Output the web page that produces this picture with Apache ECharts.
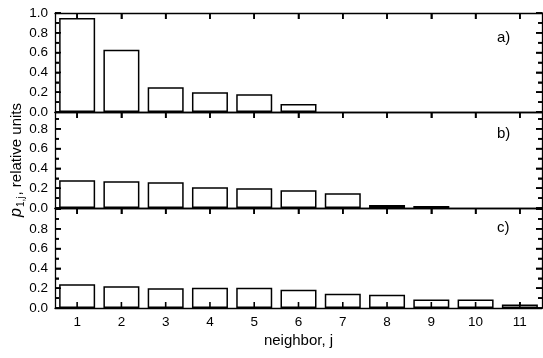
<!DOCTYPE html>
<html>
<head>
<meta charset="utf-8">
<script src="https://cdn.jsdelivr.net/npm/echarts@6/dist/echarts.min.js"></script>
<style>html,body{margin:0;padding:0;background:#fff}#c{width:543px;height:358px}</style>
</head>
<body>
<div id="c"></div>
<script>
const categories = ['1','2','3','4','5','6','7','8','9','10','11'];
const panelA = [0.95, 0.63, 0.25, 0.20, 0.18, 0.08];
const panelB = [0.28, 0.27, 0.26, 0.21, 0.20, 0.18, 0.15, 0.03, 0.02];
const panelC = [0.24, 0.22, 0.20, 0.205, 0.205, 0.185, 0.145, 0.135, 0.085, 0.085, 0.035];
const yTicks = [0, 0.2, 0.4, 0.6, 0.8, 1.0];
const panelLabels = ['a)', 'b)', 'c)'];
const xTitle = 'neighbor, j';

const FONT = 'Liberation Sans, Arial, sans-serif';
const panels = [panelA, panelB, panelC];
const L = 55, W = 487;
const mainGrids = [
  {left: L, width: W, top: 13, height: 99},
  {left: L, width: W, top: 112, height: 96},
  {left: L, width: W, top: 208, height: 100}
];
const yMax = [1.0, 0.97, 1.01];
const MAJOR = yTicks[1] - yTicks[0];
const minorTicks = yTicks.slice(0, -1).map((t, k) => (t + yTicks[k + 1]) / 2);
const line = () => ({show: true, onZero: false, lineStyle: {color: '#000', width: 1.3}});
const nativeTick = (len) => ({show: true, inside: true, alignWithLabel: true, length: len, lineStyle: {color: '#000', width: 1.5}});

const grid = [], xAxis = [], yAxis = [], series = [];
mainGrids.forEach(g => grid.push(Object.assign({outerBoundsMode: 'none'}, g)));
mainGrids.forEach(g => grid.push(Object.assign({outerBoundsMode: 'none'}, g)));

// bottom x (0..2)
for (let i = 0; i < 3; i++) {
  const last = i === 2;
  xAxis.push({
    type: 'category', gridIndex: i, data: categories, position: 'bottom',
    axisLine: line(), axisTick: last ? nativeTick(6) : {show: false},
    axisLabel: {show: last, color: '#000', fontFamily: FONT, fontSize: 13.5, margin: 7},
    splitLine: {show: false},
    name: last ? xTitle : '', nameLocation: 'middle', nameGap: 25, nameMoveOverlap: false,
    nameTextStyle: {color: '#000', fontFamily: FONT, fontSize: 15}
  });
}
// top x (3..5)
for (let i = 0; i < 3; i++) {
  xAxis.push({
    type: 'category', gridIndex: i, data: categories, position: 'top',
    axisLine: line(), axisTick: nativeTick(6),
    axisLabel: {show: false}, splitLine: {show: false}
  });
}
// overlay x (6..8)
for (let i = 0; i < 3; i++) {
  xAxis.push({type: 'value', gridIndex: 3 + i, min: 0, max: 1, show: false});
}
// left y (0..2)
for (let i = 0; i < 3; i++) {
  yAxis.push({
    type: 'value', gridIndex: i, min: 0, max: yMax[i], interval: MAJOR, position: 'left',
    axisLine: line(), axisTick: nativeTick(6),
    minorTick: {show: true, splitNumber: 2, length: 4, lineStyle: {color: '#000', width: 1.5}},
    axisLabel: {color: '#000', fontFamily: FONT, fontSize: 13.5, margin: 7, showMaxLabel: i === 0,
      formatter: v => (yTicks.some(t => Math.abs(t - v) < 1e-6) && (i === 0 || v < 0.85) ? v.toFixed(1) : '')},
    splitLine: {show: false},
    name: i === 1 ? '{p|p}{s|1,j}{n|, relative units}' : '',
    nameLocation: 'middle', nameGap: 29, nameMoveOverlap: false,
    nameTextStyle: {
      color: '#000', fontFamily: FONT, fontSize: 15,
      rich: {
        p: {fontFamily: FONT, fontSize: 16, fontStyle: 'italic', color: '#000', lineHeight: 18},
        s: {fontFamily: FONT, fontSize: 10, color: '#000', verticalAlign: 'bottom', lineHeight: 18, padding: [8, 1, 0, 1]},
        n: {fontFamily: FONT, fontSize: 15, color: '#000', lineHeight: 18}
      }
    }
  });
}
// right y (3..5)
for (let i = 0; i < 3; i++) {
  yAxis.push({
    type: 'value', gridIndex: i, min: 0, max: yMax[i], interval: MAJOR, position: 'right',
    axisLine: line(), axisTick: nativeTick(6),
    minorTick: {show: true, splitNumber: 2, length: 4, lineStyle: {color: '#000', width: 1.5}},
    axisLabel: {show: false}, splitLine: {show: false}
  });
}
// overlay y (6..8)
for (let i = 0; i < 3; i++) {
  yAxis.push({type: 'value', gridIndex: 3 + i, min: 0, max: yMax[i], show: false});
}

// bars
for (let i = 0; i < 3; i++) {
  series.push({
    type: 'bar', xAxisIndex: i, yAxisIndex: i, data: panels[i], barWidth: 36, z: 2,
    itemStyle: {color: '#fff', borderColor: '#000', borderWidth: 1.5},
    silent: true, animation: false
  });
}

// inward tick marks as thin rect symbols placed through the axes' scales
const tickSeries = (xi, yi, data, size, offset) => ({
  type: 'scatter', xAxisIndex: xi, yAxisIndex: yi, data, symbol: 'rect',
  symbolSize: size, symbolOffset: offset, clip: false, z: 5, silent: true, animation: false,
  itemStyle: {color: '#000', opacity: 1}
});
for (let i = 0; i < 3; i++) {
  const maj = yTicks.filter(v => v <= yMax[i] + 1e-9);
  const min = minorTicks.filter(v => v <= yMax[i] + 1e-9);
  series.push(tickSeries(6 + i, 6 + i, maj.map(v => [0, v]), [6, 1.6], [3, 0]));
  series.push(tickSeries(6 + i, 6 + i, min.map(v => [0, v]), [4, 1.6], [2, 0]));
  series.push(tickSeries(6 + i, 6 + i, maj.map(v => [1, v]), [6, 1.6], [-3, 0]));
  series.push(tickSeries(6 + i, 6 + i, min.map(v => [1, v]), [4, 1.6], [-2, 0]));
  series.push(tickSeries(i, i, categories.map(c => [c, yMax[i]]), [1.6, 6], [0, 3]));
  if (i === 2) series.push(tickSeries(i, i, categories.map(c => [c, 0]), [1.6, 6], [0, -3]));
}

const labelTops = [30, 126, 220];
const graphic = panelLabels.map((t, i) => ({
  type: 'text', left: 497, top: labelTops[i], z: 20,
  style: {text: t, fill: '#000', font: '15px ' + FONT}
}));

const chart = echarts.init(document.getElementById('c'), null, {renderer: 'canvas'});
chart.setOption({
  animation: false,
  backgroundColor: '#fff',
  grid, xAxis, yAxis, series, graphic
});
</script>
</body>
</html>
